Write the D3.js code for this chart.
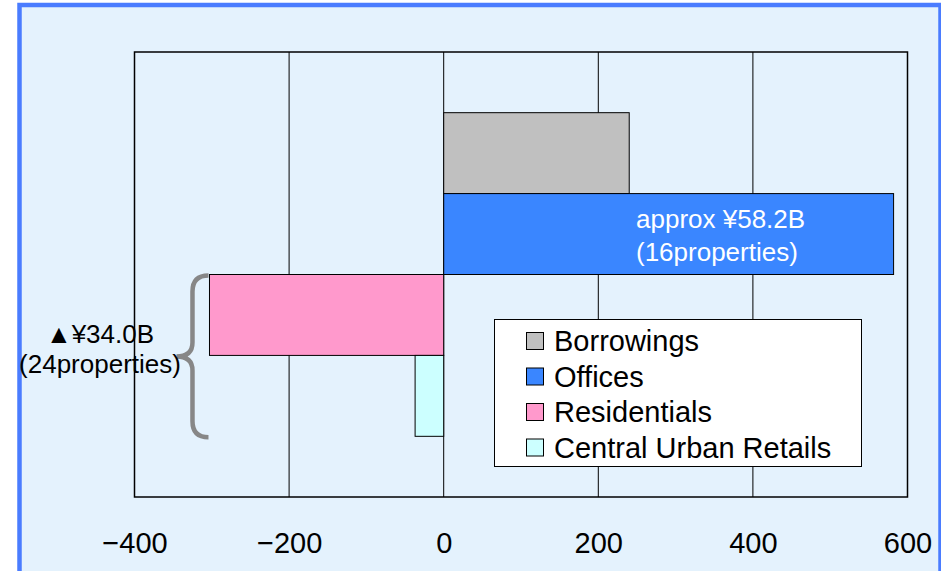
<!DOCTYPE html>
<html>
<head>
<meta charset="utf-8">
<script src="https://cdn.jsdelivr.net/npm/d3@7"></script>
<style>
  html, body { margin: 0; padding: 0; background: #fff; }
  svg { display: block; font-family: "Liberation Sans", Arial, sans-serif; }
</style>
</head>
<body>
<svg id="chart" width="941" height="571"></svg>
<script>
// Data (units: ¥100M)
const series = ["Borrowings", "Offices", "Residentials", "Central Urban Retails"];
const values = [240, 582, -303, -37];
const colors = ["#c0c0c0", "#3a86ff", "#ff99cc", "#ccffff"];
const ticks = [-400, -200, 0, 200, 400, 600];
const officeNote = ["approx ¥58.2B", "(16properties)"];
const saleNote = ["▲¥34.0B", "(24properties)"];

const svg = d3.select("#chart");

// Frame
svg.append("rect")
  .attr("x", 19.5).attr("y", 5)
  .attr("width", 921).attr("height", 620)
  .attr("fill", "#e4f2fd")
  .attr("stroke", "#4a7cff")
  .attr("stroke-width", 4.5);

const plot = { left: 134.5, right: 907.5, top: 52, bottom: 497 };

const x = d3.scaleLinear().domain([-400, 600]).range([plot.left, plot.right]);
const y = d3.scaleBand().domain(series)
  .range([plot.top, plot.bottom])
  .paddingInner(0).paddingOuter(0.75);

// Grid lines
svg.append("g").selectAll("line")
  .data(ticks)
  .join("line")
  .attr("x1", d => x(d)).attr("x2", d => x(d))
  .attr("y1", plot.top).attr("y2", plot.bottom)
  .attr("stroke", "#000")
  .attr("stroke-width", 1);

// Plot border
svg.append("rect")
  .attr("x", plot.left).attr("y", plot.top)
  .attr("width", plot.right - plot.left)
  .attr("height", plot.bottom - plot.top)
  .attr("fill", "none")
  .attr("stroke", "#000")
  .attr("stroke-width", 1.5);

// Bars
svg.append("g").selectAll("rect")
  .data(series)
  .join("rect")
  .attr("x", (d, i) => x(Math.min(0, values[i])))
  .attr("y", d => y(d))
  .attr("width", (d, i) => Math.abs(x(values[i]) - x(0)))
  .attr("height", y.bandwidth())
  .attr("fill", (d, i) => colors[i])
  .attr("stroke", "#000")
  .attr("stroke-width", 1);

// X axis labels
const xAxis = d3.axisBottom(x)
  .tickValues(ticks)
  .tickSize(0)
  .tickPadding(0)
  .tickFormat(d => d < 0 ? "\u2212" + Math.abs(d) : String(d));

const ax = svg.append("g")
  .attr("transform", `translate(0,${plot.bottom + 35})`)
  .call(xAxis);
ax.select(".domain").remove();
ax.selectAll("text")
  .attr("font-family", "'Liberation Sans', Arial, sans-serif")
  .attr("font-size", 29)
  .attr("fill", "#000");

// Offices annotation
svg.append("text")
  .attr("x", 636).attr("y", 228)
  .attr("fill", "#fff")
  .attr("font-size", 26)
  .selectAll("tspan")
  .data(officeNote)
  .join("tspan")
  .attr("x", 636)
  .attr("dy", (d, i) => i === 0 ? 0 : 33)
  .text(d => d);

// Brace around Residentials + Retails
const bTop = y("Residentials") + 1;
const bBot = y("Central Urban Retails") + y.bandwidth() + 1;
const bMid = (bTop + bBot) / 2;
const bx = x(-303) - 1;
const bv = bx - 16;
const bc = bx - 32;
const brace = d3.path();
brace.moveTo(bx, bTop);
brace.quadraticCurveTo(bv, bTop, bv, bTop + 16);
brace.lineTo(bv, bMid - 14);
brace.quadraticCurveTo(bv, bMid, bc, bMid);
brace.quadraticCurveTo(bv, bMid, bv, bMid + 14);
brace.lineTo(bv, bBot - 16);
brace.quadraticCurveTo(bv, bBot, bx, bBot);
svg.append("path")
  .attr("d", brace.toString())
  .attr("fill", "none")
  .attr("stroke", "#878787")
  .attr("stroke-width", 4.5);

// Sale annotation
svg.append("text")
  .attr("x", 100).attr("y", 343)
  .attr("fill", "#000")
  .attr("font-size", 26)
  .attr("text-anchor", "middle")
  .selectAll("tspan")
  .data(saleNote)
  .join("tspan")
  .attr("x", 100)
  .attr("dy", (d, i) => i === 0 ? 0 : 30)
  .text(d => d);

// Legend
const lg = svg.append("g");
lg.append("rect")
  .attr("x", 494.5).attr("y", 319.5)
  .attr("width", 367).attr("height", 147)
  .attr("fill", "#fff")
  .attr("stroke", "#000")
  .attr("stroke-width", 1);

const items = lg.selectAll("g.item")
  .data(series)
  .join("g")
  .attr("class", "item")
  .attr("transform", (d, i) => `translate(0,${351 + i * 35.5})`);

items.append("rect")
  .attr("x", 526.5).attr("y", -18.5)
  .attr("width", 17).attr("height", 17)
  .attr("fill", (d, i) => colors[i])
  .attr("stroke", "#000")
  .attr("stroke-width", 1);

items.append("text")
  .attr("x", 554).attr("y", 0)
  .attr("font-size", 29)
  .attr("fill", "#000")
  .text(d => d);
</script>
</body>
</html>
